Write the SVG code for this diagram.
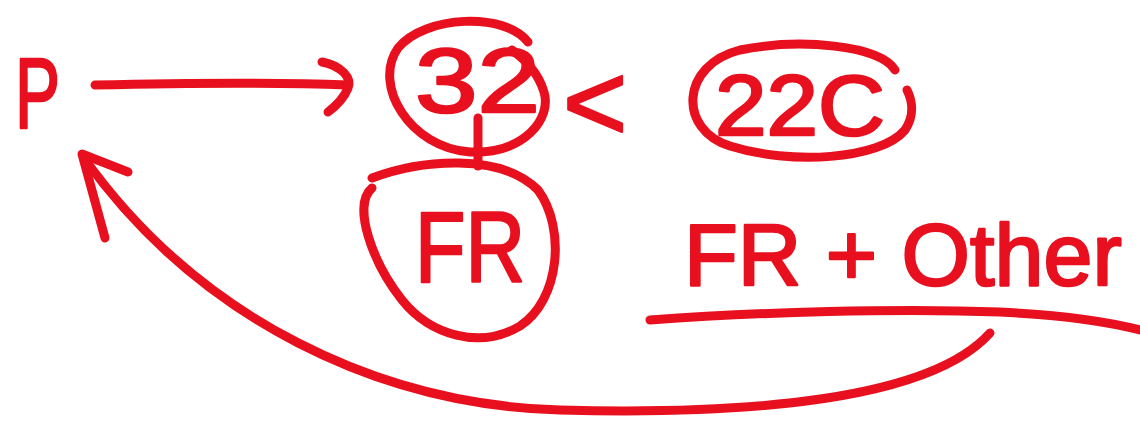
<svg xmlns="http://www.w3.org/2000/svg" width="1140" height="421" viewBox="0 0 1140 421">
<style>
.s{fill:none;stroke:#e8101f;stroke-width:9;stroke-linecap:round;stroke-linejoin:round}
.t{font-family:"Liberation Sans",Arial,sans-serif;fill:#e8101f;stroke:#e8101f;stroke-width:2.5;stroke-linejoin:round}
</style>
<rect width="1140" height="421" fill="#ffffff"/>
<g id="node-P"><text class="t" x="15" y="128" font-size="100" textLength="45" lengthAdjust="spacingAndGlyphs">P</text></g>
<g id="node-32">
<path class="s" d="M 528 42 C 505 12 425 15 398 48 C 372 85 410 148 470 152 C 525 154 552 118 544 92 C 538 72 525 60 512 50"/>
<text class="t" x="415" y="112" font-size="90" textLength="125" lengthAdjust="spacingAndGlyphs">32</text>
</g>
<g id="node-lt"><text class="t" x="595" y="140" font-size="110" text-anchor="middle">&lt;</text></g>
<g id="node-22C">
<path class="s" d="M 895 70 C 880 45 800 38 740 50 C 680 65 678 130 730 146 C 790 165 880 160 905 130 C 915 115 912 100 907 90"/>
<text class="t" x="715" y="135" font-size="85" textLength="170" lengthAdjust="spacingAndGlyphs">22C</text>
</g>
<g id="node-FR">
<path class="s" d="M 372 178 C 420 160 500 152 538 190 C 566 228 560 300 520 326 C 480 350 430 335 402 300 C 372 262 352 205 372 188"/>
<text class="t" x="415" y="282" font-size="100" textLength="110" lengthAdjust="spacingAndGlyphs">FR</text>
</g>
<g id="node-FRother">
<text class="t" x="684" y="285" font-size="88">FR + Other</text>
<path class="s" d="M 650 320 C 760 312 900 308 1000 312 C 1060 315 1110 322 1140 330"/>
</g>
<g id="connectors">
<path class="s" d="M 95 85 C 180 83 270 82 348 85"/>
<path class="s" d="M 322 62 C 342 66 352 78 348 88 C 344 98 336 106 328 112"/>
<path class="s" d="M 478 118 L 478 166"/>
<path class="s" d="M 990 333 C 930 400 750 415 560 410 C 380 405 200 320 84 158"/>
<path class="s" d="M 128 172 L 82 154 L 105 238"/>
</g>
</svg>
